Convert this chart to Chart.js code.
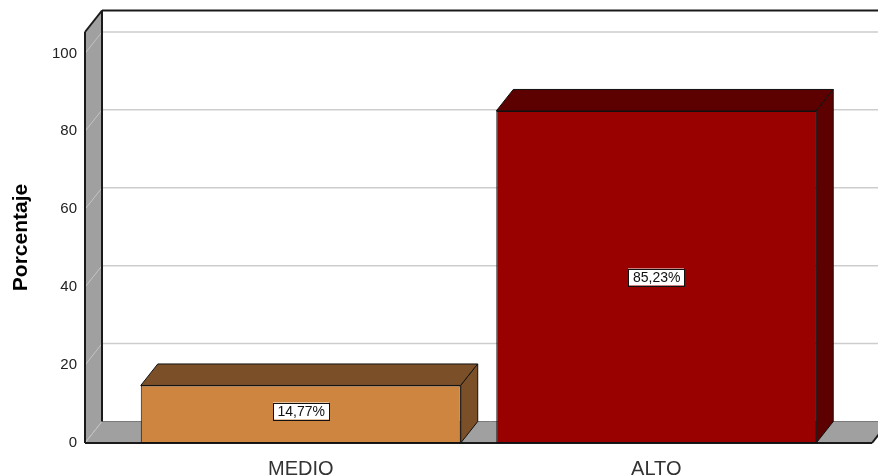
<!DOCTYPE html>
<html>
<head>
<meta charset="utf-8">
<script src="https://cdn.jsdelivr.net/npm/chart.js@4/dist/chart.umd.min.js"></script>
<style>
  html, body { margin: 0; padding: 0; background: #fff; }
  canvas { display: block; }
</style>
</head>
<body>
<canvas id="chart" width="878" height="476"></canvas>
<script>
const categories = ['MEDIO', 'ALTO'];
const percentages = [14.77, 85.23];
const yTickValues = [0, 20, 40, 60, 80, 100];
const frontColors = ['#cd853f', '#990000'];
const shadeColors = ['#7b5029', '#5c0000'];

// 3D depth offset and how far the floor runs past the category area
const DX = 17;
const DY = -21.5;
const WALL_OUT = 38;
const FONT = "'Liberation Sans', Arial, sans-serif";

function line(ctx, x1, y1, x2, y2) {
  ctx.beginPath();
  ctx.moveTo(x1, y1);
  ctx.lineTo(x2, y2);
  ctx.stroke();
}

function poly(ctx, pts, fill, stroke, lw) {
  ctx.beginPath();
  ctx.moveTo(pts[0][0], pts[0][1]);
  pts.slice(1).forEach(p => ctx.lineTo(p[0], p[1]));
  ctx.closePath();
  if (fill) { ctx.fillStyle = fill; ctx.fill(); }
  if (stroke) { ctx.strokeStyle = stroke; ctx.lineWidth = lw || 1; ctx.stroke(); }
}

const box3d = {
  id: 'box3d',
  beforeDatasetsDraw(chart) {
    const { ctx, chartArea: a, scales: { y } } = chart;
    const L = a.left - WALL_OUT, R = a.right + WALL_OUT;
    const B = y.getPixelForValue(0), T = a.top;
    ctx.save();
    // back wall grid
    ctx.strokeStyle = '#cdcdcd';
    ctx.lineWidth = 1.5;
    yTickValues.forEach(v => {
      if (v === 0) return;
      const py = y.getPixelForValue(v);
      line(ctx, L + DX, py + DY, R + DX, py + DY);
    });
    // back wall top edge
    ctx.strokeStyle = '#1a1a1a';
    ctx.lineWidth = 2;
    line(ctx, L + DX, T + DY, R + DX + 20, T + DY);
    // left wall
    poly(ctx, [[L, B], [L, T], [L + DX, T + DY], [L + DX, B + DY]], '#a0a0a0');
    ctx.strokeStyle = '#c4c4c4';
    ctx.lineWidth = 1;
    yTickValues.forEach(v => {
      const py = y.getPixelForValue(v);
      line(ctx, L, py, L + DX, py + DY);
    });
    // floor
    poly(ctx, [[L, B], [R, B], [R + DX, B + DY], [L + DX, B + DY]], '#a0a0a0');
    ctx.strokeStyle = '#7a7a7a';
    ctx.lineWidth = 1;
    line(ctx, L + DX, B + DY, R + DX, B + DY);
    ctx.strokeStyle = '#c4c4c4';
    line(ctx, L, B, L + DX, B + DY);
    // dark edges
    ctx.strokeStyle = '#1a1a1a';
    ctx.lineWidth = 2;
    line(ctx, L, B, L, T);
    line(ctx, L, T, L + DX, T + DY);
    line(ctx, L + DX, T + DY, L + DX, B + DY);
    line(ctx, L, B, R, B);
    line(ctx, R, B, R + DX, B + DY);
    ctx.restore();
  },
  afterDatasetsDraw(chart) {
    const { ctx } = chart;
    const meta = chart.getDatasetMeta(0);
    ctx.save();
    meta.data.forEach((bar, i) => {
      const { x, y, base, width } = bar.getProps(['x', 'y', 'base', 'width'], true);
      const l = x - width / 2, r = x + width / 2;
      poly(ctx, [[l, y], [l + DX, y + DY], [r + DX, y + DY], [r, y]], shadeColors[i], '#111', 1);
      poly(ctx, [[r, y], [r + DX, y + DY], [r + DX, base + DY], [r, base]], shadeColors[i], '#111', 1);
      // value label
      const txt = percentages[i].toFixed(2).replace('.', ',') + '%';
      ctx.font = '14px ' + FONT;
      const tw = ctx.measureText(txt).width;
      const bw = Math.round(tw + 9), bh = 17;
      const cy = Math.round((y + base) / 2) - (i === 0 ? 3 : 0);
      const bx = Math.round(x - bw / 2);
      ctx.fillStyle = '#fff';
      ctx.fillRect(bx, cy - bh / 2, bw, bh);
      ctx.strokeStyle = '#111';
      ctx.lineWidth = 1;
      ctx.strokeRect(bx + 0.5, Math.round(cy - bh / 2) + 0.5, bw, bh);
      ctx.fillStyle = '#111';
      ctx.textAlign = 'center';
      ctx.textBaseline = 'middle';
      ctx.fillText(txt, x + 0.5, cy + 1.5);
    });
    ctx.restore();
  }
};

new Chart(document.getElementById('chart').getContext('2d'), {
  type: 'bar',
  data: {
    labels: categories,
    datasets: [{
      data: percentages,
      backgroundColor: frontColors,
      borderColor: '#111',
      borderWidth: 1,
      borderSkipped: false,
      categoryPercentage: 1,
      barPercentage: 0.9,
    }],
  },
  options: {
    responsive: false,
    animation: false,
    layout: { padding: { left: 0, right: 44, top: 32, bottom: 0 } },
    plugins: { legend: { display: false }, tooltip: { enabled: false } },
    scales: {
      x: {
        type: 'category',
        offset: true,
        grid: { display: false, drawTicks: false },
        border: { display: false },
        ticks: { font: { family: FONT, size: 20 }, color: '#333', padding: 14 },
        afterFit: (s) => { s.height = 33; },
      },
      y: {
        min: 0,
        max: 105.5,
        grid: { display: false, drawTicks: false },
        border: { display: false },
        ticks: {
          stepSize: 20,
          includeBounds: false,
          padding: 46,
          font: { family: FONT, size: 15 },
          color: '#222',
        },
        title: {
          display: true,
          text: 'Porcentaje',
          font: { family: FONT, size: 21, weight: 'bold' },
          color: '#000',
          padding: { top: 9, bottom: 0 },
        },
        afterFit: (s) => {
          s.width = 123;
          // the big label padding must not shrink the plot vertically
          s.paddingTop = 0;
          s.paddingBottom = 0;
        },
      },
    },
  },
  plugins: [box3d],
});
</script>
</body>
</html>
